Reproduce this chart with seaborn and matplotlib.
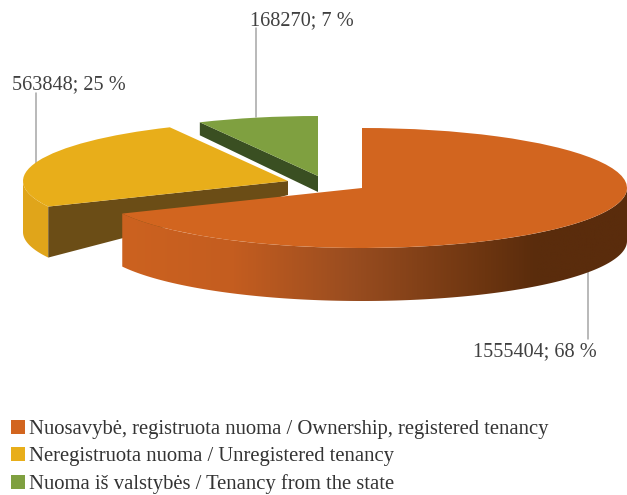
# plot.py
# Exploded 3D style pie of dwelling tenure (Lithuania)
import numpy as np
import seaborn as sns
import matplotlib.pyplot as plt
from matplotlib.colors import LinearSegmentedColormap
from matplotlib.patches import Polygon
from matplotlib.transforms import Affine2D

# Data
categories = ["Nuosavybė, registruota nuoma / Ownership, registered tenancy",
              "Neregistruota nuoma / Unregistered tenancy",
              "Nuoma iš valstybės / Tenancy from the state"]
values = [1555404, 563848, 168270]
percents = [68, 25, 7]

top_colors = ["#D2651F", "#E8AE1A", "#7FA040"]
cut_colors = ["#5E2F0C", "#6B4D16", "#3A4F22"]
yellow_rim = "#E0A51A"

W, H = 627, 495
RX, RY = 265.0, 60.0
CX, CY = 362.0, 188.0

# pixel positions of each slice apex, then depth at rim and at apex
apex_px = [(362, 188), (288, 181), (318, 176)]
rim_depth = [53, 51, 13]
apex_depth = [53, 14, 16]

sns.set_theme(style="white")
plt.rcParams['font.family'] = ['Liberation Serif', 'DejaVu Serif']

fig = plt.figure(figsize=(W / 100, H / 100), dpi=100)
ax = fig.add_axes([0, 0, 1, 1])
wedges, _ = ax.pie(values, startangle=90, counterclock=False,
                   colors=sns.color_palette(top_colors))
ax.set_aspect("auto")
ax.set_xlim(-CX / RX, (W - CX) / RX)
ax.set_ylim((CY - H) / RY, CY / RY)
ax.axis("off")
xlim, ylim = ax.get_xlim(), ax.get_ylim()

px = Affine2D().scale(1 / W, -1 / H).translate(0, 1) + fig.transFigure


def arc(theta1, theta2, n=200):
    t = np.radians(np.linspace(theta1, theta2, n))
    return np.cos(t), np.sin(t)


def rim_points(theta1, theta2, cx, cy, depth):
    xs, ys = arc(theta1, theta2)
    return np.vstack([np.c_[xs + cx, ys + cy], np.c_[xs + cx, ys + cy - depth][::-1]])


# Slices back to front: green, yellow, orange
for i in [2, 1, 0]:
    w = wedges[i]
    cx = (apex_px[i][0] - CX) / RX
    cy = (CY - apex_px[i][1]) / RY
    w.set_center((cx, cy))
    z = 10 + (2 - i) * 3
    w.set_zorder(z + 2)
    w.set_linewidth(0)
    drim, dapex = rim_depth[i] / RY, apex_depth[i] / RY

    # near side wall
    if i == 0:
        pts = rim_points(w.theta1, 0, cx, cy, drim)
        poly = Polygon(pts, closed=True, fc="none", ec="none")
        ax.add_patch(poly)
        shade = LinearSegmentedColormap.from_list(
            "rim", [(0, "#CC6220"), (0.22, "#C45D1F"), (0.45, "#9A4D20"),
                    (0.72, "#6C3510"), (0.82, "#5A2C0C"), (1, "#5A2C0C")])
        img = ax.imshow(np.linspace(0, 1, 256).reshape(1, -1), cmap=shade,
                        extent=[pts[:, 0].min(), pts[:, 0].max(), -2, 1],
                        aspect="auto", zorder=z)
        img.set_clip_path(poly)
    if i == 1:
        pts = rim_points(180, w.theta2 + 360, cx, cy, drim)
        ax.add_patch(Polygon(pts, closed=True, fc=yellow_rim, ec="none", zorder=z))

    # cut face towards the viewer
    if i > 0:
        ex = np.cos(np.radians(w.theta2)) + cx
        ey = np.sin(np.radians(w.theta2)) + cy
        cut = [(cx, cy), (ex, ey), (ex, ey - drim), (cx, cy - dapex)]
        ax.add_patch(Polygon(cut, closed=True, fc=cut_colors[i], ec="none", zorder=z + 1))

ax.set_xlim(xlim)
ax.set_ylim(ylim)

# Data labels with leader lines
label_pos = [(535, 352), (69, 85), (302, 21)]
leaders = [((588, 272), (588, 339)), ((36, 93), (36, 163)), ((256, 28), (256, 117))]
for i in range(3):
    ax.text(*label_pos[i], f"{values[i]}; {percents[i]} %", transform=px,
            ha="center", va="center", fontsize=14.6, color="#404040", zorder=40)
    (x0, y0), (x1, y1) = leaders[i]
    ax.plot([x0, x1], [y0, y1], transform=px, color="#A6A6A6", lw=1.1, zorder=5)

# Legend
ax.legend(wedges, categories, loc="lower left", bbox_to_anchor=(7 / W, -3 / H),
          bbox_transform=fig.transFigure, frameon=False, fontsize=14.85,
          labelcolor="#333333", handlelength=0.65, handleheight=0.65,
          handletextpad=0.2, labelspacing=0.38, borderpad=0.2, borderaxespad=0)

plt.savefig("out.png", dpi=100)
plt.close()
